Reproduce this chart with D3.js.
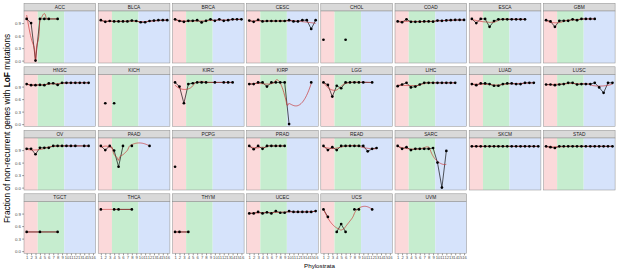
<!DOCTYPE html>
<html lang="en">
<head>
<meta charset="UTF-8">
<title>LoF fraction by phylostrata</title>
<script src="https://d3js.org/d3.v7.min.js"></script>
<style>
  body { margin: 0; background: #fff; }
  text { font-family: "Liberation Sans", Arial, sans-serif; }
</style>
</head>
<body>
<svg id="chart" width="617" height="271"></svg>
<script>
  // phylostrata 1..16, y ticks, and where the three age bands split
  const phylostrata = d3.range(1, 17);
  const yTicks = [0, 0.3, 0.6, 0.9];
  const bandEdges = [3.5, 9.5];

  const cancers = ["ACC", "BLCA", "BRCA", "CESC", "CHOL", "COAD", "ESCA", "GBM",
    "HNSC", "KICH", "KIRC", "KIRP", "LGG", "LIHC", "LUAD", "LUSC",
    "OV", "PAAD", "PCPG", "PRAD", "READ", "SARC", "SKCM", "STAD",
    "TGCT", "THCA", "THYM", "UCEC", "UCS", "UVM"];

  // [phylostratum, fraction]; null = NA (breaks the line)
  const ACC  = [[1,1.00],[2,0.90],[3,0.00],[4,1.00],[5,1.00],[6,1.00],[8,1.00]];
  const BLCA = [[1,0.97],[2,0.93],[3,0.95],[4,0.94],[5,0.94],[6,0.94],[7,0.94],[8,0.96],[9,0.95],[10,0.92],[11,0.92],[12,0.95],[13,0.96],[14,0.97],[15,0.97],[16,0.97]];
  const BRCA = [[1,0.99],[2,0.95],[3,0.93],[4,0.955],[5,0.955],[6,0.97],[7,0.915],[8,0.955],[9,0.99],[10,0.955],[11,0.99],[12,0.955],[13,0.97],[14,0.99],[15,0.99],[16,0.99]];
  const CESC = [[1,0.96],[2,0.93],[3,0.98],[4,0.94],[5,0.95],[6,0.95],[7,0.95],[8,0.95],[9,0.95],[10,0.97],[11,0.94],[12,0.94],[13,0.97],[14,0.97],[15,0.76],[16,0.97]];
  const CHOL = [[1,0.50],[2,null],[3,null],[4,null],[5,null],[6,0.50]];
  const COAD = [[1,0.94],[2,0.92],[3,0.99],[4,0.93],[5,0.93],[6,0.935],[7,0.94],[8,0.94],[9,0.935],[10,0.96],[11,0.955],[12,0.965],[13,0.97],[14,0.975],[15,0.975],[16,0.975]];
  const ESCA = [[1,1.00],[2,0.90],[3,1.00],[4,1.00],[5,0.81],[6,0.95],[7,0.99],[8,0.99],[9,0.99],[10,0.99],[11,0.99],[12,0.99],[13,0.99]];
  const GBM  = [[1,0.97],[2,0.94],[3,0.81],[4,0.955],[5,0.955],[6,0.955],[7,0.99],[8,0.97],[9,1.00],[10,1.00],[11,1.00],[12,1.00]];
  const HNSC = [[1,0.96],[2,0.935],[3,0.935],[4,0.94],[5,0.935],[6,0.975],[7,0.98],[8,0.94],[9,0.99],[10,0.99],[11,0.99],[12,0.99],[13,0.99],[14,0.99],[15,0.99]];
  const KICH = [[2,0.50],[3,null],[4,0.50]];
  const KIRC = [[1,1.00],[2,0.90],[3,0.50],[4,0.96],[5,0.98],[6,1.00],[7,1.00],[8,1.00],[10,1.00],[12,1.00],[13,1.00],[14,1.00]];
  const KIRP = [[1,0.96],[2,0.96],[3,1.00],[4,1.00],[5,0.90],[6,1.00],[7,1.00],[8,1.00],[9,1.00],[10,0.00],[11,null],[12,null],[13,null],[14,null],[15,1.00]];
  const LGG  = [[1,1.00],[2,0.94],[3,0.66],[4,0.92],[5,0.86],[6,1.00],[7,1.00],[8,1.00],[9,1.00],[10,1.00],[12,1.00]];
  const LIHC = [[1,0.91],[2,0.95],[3,0.99],[4,0.88],[5,0.90],[6,0.95],[7,0.99],[8,0.99],[9,0.99],[10,0.99],[11,0.99],[12,0.99],[13,0.99],[14,0.99]];
  const LUAD = [[1,0.96],[2,0.935],[3,0.975],[4,0.975],[5,0.96],[6,0.92],[7,0.92],[8,0.96],[9,0.975],[10,0.975],[11,0.96],[12,0.96],[13,0.99],[14,0.99],[15,0.99]];
  const LUSC = [[1,0.95],[2,0.95],[3,0.935],[4,0.95],[5,0.96],[6,0.99],[7,0.99],[8,0.95],[9,0.96],[10,0.96],[11,0.96],[12,0.99],[13,0.88],[14,0.75],[15,0.99],[16,0.99]];
  const OV   = [[1,0.93],[2,0.93],[3,0.80],[4,0.955],[5,0.955],[6,0.955],[7,1.00],[8,1.00],[9,1.00],[10,1.00],[11,1.00],[12,1.00],[14,1.00],[15,1.00]];
  const PAAD = [[1,1.00],[2,0.90],[3,1.00],[4,0.89],[5,0.50],[6,1.00],[7,null],[8,1.00],[9,null],[10,null],[11,null],[12,1.00]];
  const PCPG = [[1,0.50]];
  const PRAD = [[1,1.00],[2,0.92],[3,1.00],[4,0.93],[5,1.00],[6,1.00],[7,1.00],[8,1.00],[9,1.00]];
  const READ = [[1,1.00],[2,0.90],[3,0.97],[4,0.90],[5,1.00],[6,1.00],[7,1.00],[8,1.00],[9,1.00],[10,1.00],[11,0.87],[12,0.93],[13,0.95]];
  const SARC = [[1,1.00],[2,0.93],[3,0.97],[4,0.90],[5,0.93],[6,0.93],[7,0.93],[8,0.93],[9,0.95],[10,0.60],[11,0.00],[12,0.88]];
  const SKCM = [[1,0.99],[2,0.99],[3,0.99],[4,0.99],[5,0.99],[6,0.99],[7,0.99],[8,0.99],[9,0.99],[10,0.99],[11,0.99],[12,0.99],[13,0.99],[14,0.99],[15,0.99],[16,0.99]];
  const STAD = [[1,0.99],[2,0.97],[3,0.95],[4,0.99],[5,0.99],[6,0.99],[7,0.99],[8,0.99],[9,0.99],[10,0.99],[11,0.99],[12,0.99],[13,0.99],[14,0.99],[15,0.99],[16,0.99]];
  const TGCT = [[1,0.46],[4,0.46],[8,0.46]];
  const THCA = [[1,1.00],[2,null],[3,null],[4,1.00],[5,1.00],[8,1.00]];
  const THYM = [[1,0.46],[2,0.46],[4,0.46]];
  const UCEC = [[1,0.905],[2,0.905],[3,0.94],[4,0.905],[5,0.93],[6,0.905],[7,0.96],[8,0.92],[9,0.92],[10,0.96],[11,0.94],[12,0.94],[13,0.94],[14,0.94],[15,0.94],[16,0.96]];
  const UCS  = [[1,1.00],[2,0.82],[3,null],[4,0.46],[5,0.65],[6,0.46],[7,null],[8,1.00],[9,1.00],[10,null],[11,null],[12,1.00]];
  const UVM  = [];

  const series = [ACC, BLCA, BRCA, CESC, CHOL, COAD, ESCA, GBM, HNSC, KICH, KIRC, KIRP,
    LGG, LIHC, LUAD, LUSC, OV, PAAD, PCPG, PRAD, READ, SARC, SKCM, STAD,
    TGCT, THCA, THYM, UCEC, UCS, UVM];

  // layout (facet grid)
  const mLeft = 24, mTop = 3.3, pw = 71.7, ph = 52, sh = 7.7, hgap = 2.5, vgap = 3.8, ncol = 8;
  const bandFill = ["#fbd9da", "#c6edcf", "#d6e3fb"];

  const x = d3.scaleLinear().domain([0.4, 16.6]).range([0, pw]);
  const y = d3.scaleLinear().domain([-0.057, 1.19]).range([ph, 0]);

  // local quadratic regression, tricube weights (like geom_smooth's loess)
  function loess(pts, span) {
    const n = pts.length;
    const q = Math.max(1, Math.floor(n * span));
    const [x0, x1] = d3.extent(pts, d => d.x);
    return d3.range(80).map(i => {
      const xv = x0 + (x1 - x0) * i / 79;
      const dist = pts.map(d => Math.abs(d.x - xv));
      const rho = dist.slice().sort((a, b) => a - b)[q - 1] * 1.001 + 1e-9;
      const w = dist.map(d => d < rho ? Math.pow(1 - Math.pow(d / rho, 3), 3) : 0);
      const wmax = d3.max(w);
      const eff = w.filter(v => v > 1e-6 * wmax).length;
      let deg = Math.min(2, eff - 1);
      while (deg >= 0) {
        const k = deg + 1;
        const M = d3.range(k).map(() => new Array(k + 1).fill(0));
        pts.forEach((d, j) => {
          const t = d.x - xv;
          const tp = d3.range(k).map(p => Math.pow(t, p));
          for (let a = 0; a < k; a++) {
            for (let b = 0; b < k; b++) M[a][b] += w[j] * tp[a] * tp[b];
            M[a][k] += w[j] * tp[a] * d.y;
          }
        });
        const beta = solve(M, k);
        if (beta) return { x: xv, y: beta[0] };
        deg--;
      }
      return { x: xv, y: NaN };
    });
  }

  function solve(M, k) {
    const A = M.map(r => r.slice());
    const scale = d3.max(A, r => d3.max(r.slice(0, k), Math.abs)) || 1;
    for (let c = 0; c < k; c++) {
      let p = c;
      for (let r = c + 1; r < k; r++) if (Math.abs(A[r][c]) > Math.abs(A[p][c])) p = r;
      if (Math.abs(A[p][c]) < 1e-9 * scale) return null;
      [A[c], A[p]] = [A[p], A[c]];
      for (let r = 0; r < k; r++) {
        if (r === c) continue;
        const f = A[r][c] / A[c][c];
        for (let j = c; j <= k; j++) A[r][j] -= f * A[c][j];
      }
    }
    return d3.range(k).map(i => A[i][k] / A[i][i]);
  }

  const svg = d3.select('#chart');
  svg.append('rect').attr('width', 617).attr('height', 271).attr('fill', '#fff');
  svg.append('defs').append('clipPath').attr('id', 'pclip')
    .append('rect').attr('width', pw).attr('height', ph);

  const line = d3.line().defined(d => d.y != null).x(d => x(d.x)).y(d => y(d.y));
  const smooth = d3.line().defined(d => !isNaN(d.y)).x(d => x(d.x)).y(d => y(d.y));

  cancers.forEach((name, i) => {
    const col = i % ncol, row = Math.floor(i / ncol);
    const gx = mLeft + col * (pw + hgap);
    const gy = mTop + row * (sh + ph + vgap);
    const pts = series[i].map(d => ({ x: d[0], y: d[1] }));
    const valid = pts.filter(d => d.y != null);

    // strip
    svg.append('rect').attr('x', gx).attr('y', gy).attr('width', pw).attr('height', sh)
      .attr('fill', '#d9d9d9').attr('stroke', '#8c8c8c').attr('stroke-width', 0.5);
    svg.append('text').attr('x', gx + pw / 2).attr('y', gy + sh / 2 + 1.7)
      .attr('text-anchor', 'middle').attr('font-size', 4.8).attr('fill', '#1a1a1a').text(name);

    const g = svg.append('g').attr('transform', `translate(${gx} ${gy + sh})`);
    const inner = g.append('g').attr('clip-path', 'url(#pclip)');
    const edges = [x.domain()[0], ...bandEdges, x.domain()[1]];
    inner.selectAll('.band').data(bandFill).enter().append('rect')
      .attr('x', (d, j) => x(edges[j])).attr('width', (d, j) => x(edges[j + 1]) - x(edges[j]))
      .attr('y', 0).attr('height', ph).attr('fill', d => d);

    inner.append('path').datum(pts).attr('d', line)
      .attr('fill', 'none').attr('stroke', '#000').attr('stroke-width', 0.65);
    if (valid.length >= 3) {
      inner.append('path').datum(loess(valid, 0.75)).attr('d', smooth)
        .attr('fill', 'none').attr('stroke', '#c83232').attr('stroke-width', 0.8).attr('opacity', 0.85);
    }
    inner.selectAll('circle').data(valid).enter().append('circle')
      .attr('cx', d => x(d.x)).attr('cy', d => y(d.y)).attr('r', 1.35).attr('fill', '#000');

    g.append('rect').attr('width', pw).attr('height', ph)
      .attr('fill', 'none').attr('stroke', '#8c8c8c').attr('stroke-width', 0.5);

    if (col === 0) {
      const ya = g.append('g').call(d3.axisLeft(y).tickValues(yTicks).tickFormat(d3.format('.1f')).tickSize(1.8).tickPadding(1.2));
      ya.select('.domain').remove();
      ya.selectAll('line').attr('stroke', '#333').attr('stroke-width', 0.5);
      ya.selectAll('text').attr('font-size', 4.4).attr('fill', '#4d4d4d').attr('font-family', null);
    }
    if (row === 3) {
      const xa = g.append('g').attr('transform', `translate(0 ${ph})`)
        .call(d3.axisBottom(x).tickValues(phylostrata).tickFormat(d3.format('d')).tickSize(1.8).tickPadding(1));
      xa.select('.domain').remove();
      xa.selectAll('line').attr('stroke', '#333').attr('stroke-width', 0.5);
      xa.selectAll('text').attr('font-size', 4.2).attr('fill', '#4d4d4d').attr('font-family', null);
    }
  });

  const plotBottom = mTop + 4 * (sh + ph) + 3 * vgap;
  const yt = svg.append('text')
    .attr('transform', `translate(10 ${(mTop + plotBottom) / 2}) rotate(-90)`)
    .attr('text-anchor', 'middle').attr('font-size', 8.3).attr('fill', '#000');
  yt.append('tspan').text('Fraction of non-recurrent genes with ');
  yt.append('tspan').attr('font-weight', 'bold').text('LoF');
  yt.append('tspan').text(' mutations');

  svg.append('text').attr('x', mLeft + (ncol * pw + (ncol - 1) * hgap) / 2).attr('y', 268)
    .attr('text-anchor', 'middle').attr('font-size', 6.2).attr('fill', '#000').text('Phylostrata');
</script>
</body>
</html>
